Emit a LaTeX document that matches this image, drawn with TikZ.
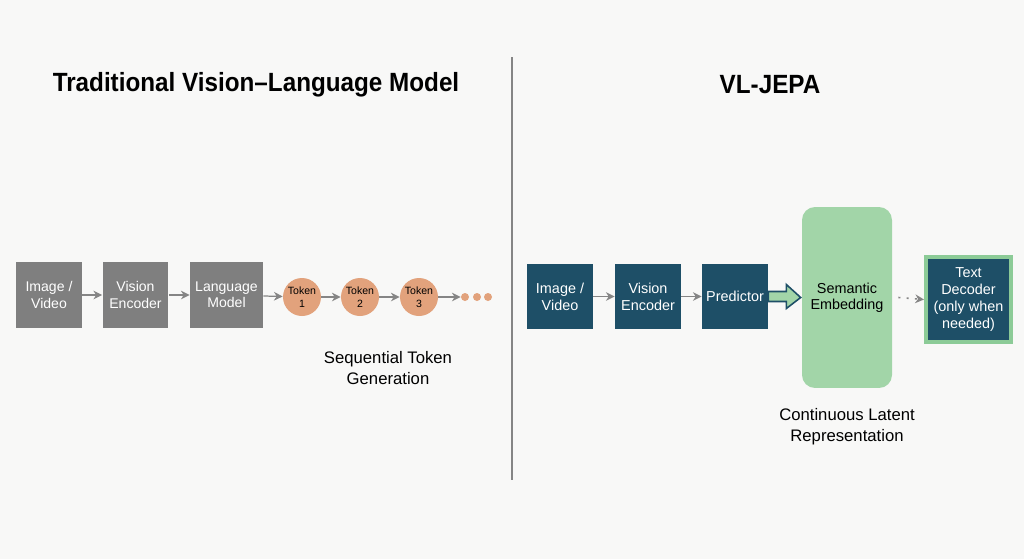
\documentclass[tikz,border=0pt]{standalone}
\usepackage{fontspec}
\setmainfont{Liberation Sans}
\usetikzlibrary{arrows.meta,calc}

\definecolor{bgcol}{HTML}{F8F8F7}
\definecolor{boxgray}{HTML}{7F7F7F}
\definecolor{tokcol}{HTML}{E2A27C}
\definecolor{tealcol}{HTML}{1E4F67}
\definecolor{embgreen}{HTML}{A2D5A8}
\definecolor{decgreen}{HTML}{8CCB97}
\definecolor{arrgray}{HTML}{858585}

\tikzset{
  graybox/.style={fill=boxgray, text=white, minimum width=1.32cm, minimum height=1.32cm,
    align=center, inner sep=1pt, font=\fontsize{8}{9.2}\selectfont},
  tealbox/.style={fill=tealcol, text=white, minimum width=1.32cm, minimum height=1.3cm,
    align=center, inner sep=1pt, font=\fontsize{8.2}{9.5}\selectfont},
  token/.style={circle, fill=tokcol, minimum size=0.76cm, inner sep=0pt, align=center,
    font=\fontsize{6}{7.4}\selectfont},
  tokdot/.style={circle, fill=tokcol, minimum size=0.16cm, inner sep=0pt},
  caption/.style={align=center, font=\fontsize{9.5}{11.8}\selectfont},
  title/.style={font=\fontsize{15}{17}\selectfont\bfseries},
  flow/.style={draw=arrgray, line width=0.7pt, -{Stealth[length=5pt,width=5pt]}}
}

\begin{document}
\begin{tikzpicture}[x=0.02cm, y=-0.02cm]
  \fill[bgcol] (0,0) rectangle (1024,559);
  \useasboundingbox (0,0) rectangle (1024,559);

  \node[title] (ltitle) at (256,85) {\scalebox{0.92}[1]{Traditional Vision–Language Model}};
  \node[title] (rtitle) at (770,85) {\scalebox{0.92}[1]{VL-JEPA}};
  \draw[arrgray, line width=0.6pt] (512,57) -- (512,480);

  \node[graybox] (limg) at (49,295) {Image /\\Video};
  \node[graybox] (lvis) at (135.5,295) {Vision\\Encoder};
  \node[graybox, minimum width=1.46cm] (llm) at (226.5,295) {Language\\Model};
  \node[token] (t1) at (302,297) {Token\\1};
  \node[token] (t2) at (360,297) {Token\\2};
  \node[token] (t3) at (419,297) {Token\\3};
  \node[tokdot] (d1) at (465,297) {};
  \node[tokdot] (d2) at (477,297) {};
  \node[tokdot] (d3) at (488,297) {};
  \draw[flow] (limg) -- (lvis);
  \draw[flow] (lvis) -- (llm);
  \draw[flow] (llm) -- (t1);
  \draw[flow] (t1) -- (t2);
  \draw[flow] (t2) -- (t3);
  \draw[flow] (t3) -- (d1);
  \node[caption] (seq) at (388,368) {Sequential Token\\Generation};

  \node[tealbox] (rimg) at (560,296.5) {Image /\\Video};
  \node[tealbox] (rvis) at (648,296.5) {Vision\\Encoder};
  \node[tealbox] (rpred) at (735,296.5) {Predictor};
  \node[fill=embgreen, rounded corners=0.26cm, minimum width=1.8cm, minimum height=3.62cm,
    align=center, font=\fontsize{8.2}{9.6}\selectfont] (sem) at (847,297.5) {\raisebox{-3pt}{\shortstack{Semantic\\Embedding}}};
  \node[fill=tealcol, draw=decgreen, line width=2.3pt, text=white, minimum width=1.7cm,
    minimum height=1.7cm, align=center, inner sep=1pt,
    font=\fontsize{8.2}{9.5}\selectfont] (dec) at (968.5,299.5) {Text\\Decoder\\(only when\\needed)};
  \draw[flow] (rimg) -- (rvis);
  \draw[flow] (rvis) -- (rpred);
  \draw[fill=embgreen, draw=tealcol, line width=0.9pt, line join=miter]
    ($(rpred.east)+(0,-5)$) -- ($(rpred.east)+(18,-5)$) -- ($(rpred.east)+(18,-12)$)
    -- ($(sem.west)+(-1,0)$) -- ($(rpred.east)+(18,12)$) -- ($(rpred.east)+(18,5)$)
    -- ($(rpred.east)+(0,5)$) -- cycle;
  \draw[flow, line width=0.9pt, dash pattern=on 1.2pt off 3.5pt] (sem.east) ++(6,0) -- (dec.west);
  \node[caption] (latent) at (847,427) {Continuous Latent\\Representation};
\end{tikzpicture}
\end{document}
